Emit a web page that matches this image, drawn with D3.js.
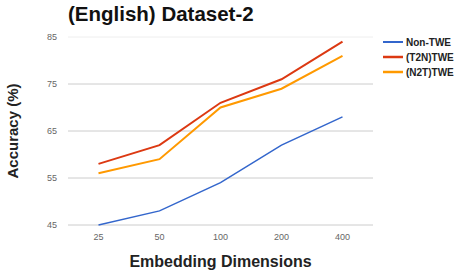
<!DOCTYPE html>
<html>
<head>
<meta charset="utf-8">
<script src="https://cdn.jsdelivr.net/npm/d3@7"></script>
<style>
  body { margin: 0; background: #fff; }
  text { font-family: Arial, "Liberation Sans", sans-serif; }
</style>
</head>
<body>
<div class="chart"></div>
<script>
(() => {
var dims = ['25', '50', '100', '200', '400'];
var yTicks = [45, 55, 65, 75, 85];
var seriesNames = ['Non-TWE', '(T2N)TWE', '(N2T)TWE'];
var nonTwe = [45, 48, 54, 62, 68];
var t2nTwe = [58, 62, 71, 76, 84];
var n2tTwe = [56, 59, 70, 74, 81];

var width = 454,
    height = 274,
    margin = {top: 37, right: 81, bottom: 49, left: 68};

var colors = ['#3366cc', '#dc3912', '#ff9900'];
var widths = [1.5, 2, 2];

var svg = d3.select('div.chart')
    .append('svg')
        .attr('width', width)
        .attr('height', height);

var x = d3.scalePoint()
    .domain(dims)
    .range([margin.left, width - margin.right])
    .padding(0.5);

var y = d3.scaleLinear()
    .domain([45, 85])
    .range([height - margin.bottom, margin.top]);

// gridlines
svg.append('g')
    .selectAll('line')
    .data(yTicks)
    .enter()
    .append('line')
        .attr('x1', margin.left)
        .attr('x2', width - margin.right)
        .attr('y1', (d) => y(d))
        .attr('y2', (d) => y(d))
        .attr('stroke', (d) => d === 85 ? '#eee' : '#ccc')
        .attr('stroke-width', 1);

// y tick labels
svg.append('g')
    .selectAll('text')
    .data(yTicks)
    .enter()
    .append('text')
        .attr('x', margin.left - 11)
        .attr('y', (d) => y(d) + 3)
        .attr('text-anchor', 'end')
        .attr('font-size', 9)
        .attr('fill', '#666')
        .text((d) => d);

// x tick labels
svg.append('g')
    .selectAll('text')
    .data(dims)
    .enter()
    .append('text')
        .attr('x', (d) => x(d))
        .attr('y', height - margin.bottom + 15)
        .attr('text-anchor', 'middle')
        .attr('font-size', 9)
        .attr('fill', '#666')
        .text((d) => d);

var line = d3.line()
    .x((d, i) => x(dims[i]))
    .y((d) => y(d));

var all = [nonTwe, t2nTwe, n2tTwe];

svg.append('g')
    .selectAll('path')
    .data(all)
    .enter()
    .append('path')
        .attr('d', line)
        .attr('fill', 'none')
        .attr('stroke', (d, i) => colors[i])
        .attr('stroke-width', (d, i) => widths[i]);

// title
svg.append('text')
    .attr('x', margin.left)
    .attr('y', 21)
    .attr('font-size', 20.5)
    .attr('font-weight', 'bold')
    .attr('fill', '#111')
    .text('(English) Dataset-2');

// axis titles
svg.append('text')
    .attr('x', (margin.left + width - margin.right) / 2)
    .attr('y', 267)
    .attr('text-anchor', 'middle')
    .attr('font-size', 16)
    .attr('font-weight', 'bold')
    .attr('fill', '#222')
    .text('Embedding Dimensions');

svg.append('text')
    .attr('transform', 'translate(18,131) rotate(-90)')
    .attr('text-anchor', 'middle')
    .attr('font-size', 15)
    .attr('font-weight', 'bold')
    .attr('fill', '#222')
    .text('Accuracy (%)');

// legend
var legend = svg.append('g')
    .selectAll('g')
    .data(seriesNames)
    .enter()
    .append('g')
        .attr('transform', (d, i) => 'translate(383,' + (42 + i * 15) + ')');

legend.append('line')
    .attr('x1', 0)
    .attr('x2', 20)
    .attr('stroke', (d, i) => colors[i])
    .attr('stroke-width', (d, i) => widths[i] + 0.5);

legend.append('text')
    .attr('x', 23)
    .attr('y', 4)
    .attr('font-size', 10)
    .attr('font-weight', 'bold')
    .attr('fill', '#222')
    .text((d) => d);
})();
</script>
</body>
</html>
